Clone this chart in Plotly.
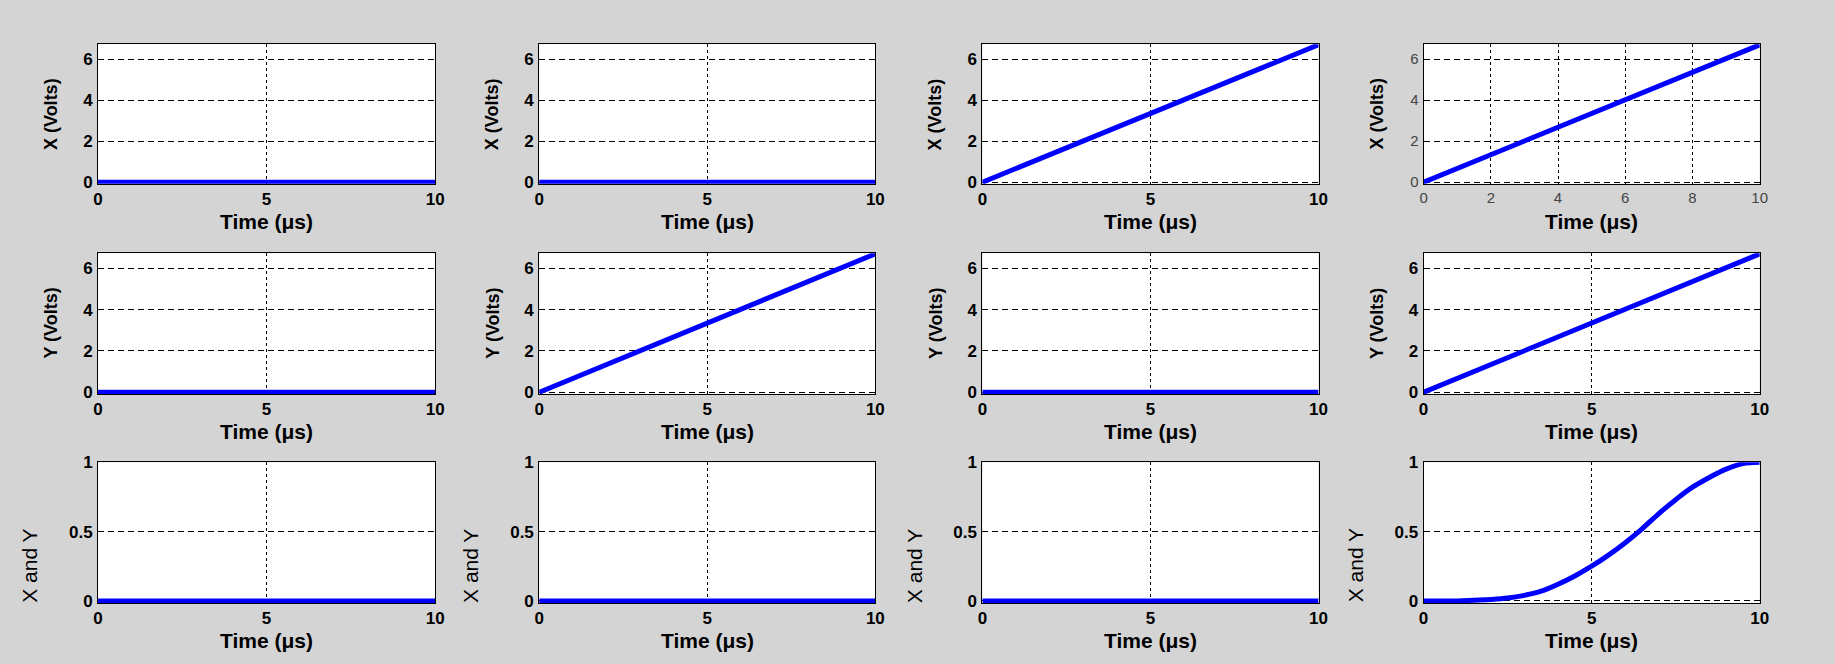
import plotly.graph_objects as go

# ---- data -------------------------------------------------------------
time_us = [0, 10]
zero_volts = [0, 0]
ramp_volts = [0, 6.7]
zero_level = [0, 0]

s_time_us = [0, 1, 1.5, 2, 2.5, 3, 3.5, 4, 4.5, 5, 5.5, 6, 6.5, 7, 7.5, 8, 8.5, 9, 9.5, 10]
s_level = [0, 0.0, 0.005, 0.01, 0.02, 0.04, 0.07, 0.12, 0.18, 0.25, 0.33, 0.42, 0.52,
           0.63, 0.73, 0.82, 0.89, 0.95, 0.99, 1.0]

row_titles = ["X (Volts)", "Y (Volts)", "X and Y"]
x_title = "Time (\u03bcs)"

volt_ticks = [0, 2, 4, 6]
level_ticks = [0, 0.5, 1]
level_tick_text = ["0", "0.5", "1"]
coarse_time_ticks = [0, 5, 10]
fine_time_ticks = [0, 2, 4, 6, 8, 10]

# panels[row][col] -> (time, values)
panels = [
    [(time_us, zero_volts), (time_us, zero_volts), (time_us, ramp_volts), (time_us, ramp_volts)],
    [(time_us, zero_volts), (time_us, ramp_volts), (time_us, zero_volts), (time_us, ramp_volts)],
    [(time_us, zero_level), (time_us, zero_level), (time_us, zero_level), (s_time_us, s_level)],
]

# ---- layout geometry --------------------------------------------------
# target screen positions (px) of each panel, converted to figure pixels
OX, OY = 6.0, 8.0        # screen offset of the figure
SX, SY = 0.992, 0.970    # screen px per figure px
W, H = 1843, 676
col_px = [(99, 436), (540, 876), (983, 1319), (1424, 1760)]
row_px = [(43, 182), (251, 391), (459, 599)]

FONT = "Liberation Sans, Arial, sans-serif"
BG = "#d4d4d4"
LINE_BLUE = "#0000ff"


def fx(px):
    return (px - OX) / SX / W


def fy(py):
    return 1 - (py - OY) / SY / H


fig = go.Figure()
annotations = []
layout_axes = {}

for r in range(3):
    for c in range(4):
        idx = r * 4 + c + 1
        sfx = "" if idx == 1 else str(idx)
        t, v = panels[r][c]
        fig.add_trace(go.Scatter(
            x=t, y=v, mode="lines",
            line=dict(color=LINE_BLUE, width=5, shape="spline" if len(t) > 2 else "linear"),
            xaxis="x" + sfx, yaxis="y" + sfx, showlegend=False, hoverinfo="skip",
        ))

        left, right = col_px[c]
        top, bottom = row_px[r]

        fine = (r == 0 and c == 3)
        tick_font = dict(family=FONT, size=17, color="black", weight="bold")
        if fine:
            tick_font = dict(family=FONT, size=15, color="#444444", weight="normal")

        if r < 2:
            yrange = [-0.08, 6.73]
            yticks, ytext = volt_ticks, [str(v_) for v_ in volt_ticks]
        else:
            yrange = [-0.015, 1.0]
            yticks, ytext = level_ticks, level_tick_text

        xticks = fine_time_ticks if fine else coarse_time_ticks

        common = dict(
            showline=True, linecolor="black", linewidth=1, mirror=True,
            ticks="", showgrid=True, gridcolor="black", gridwidth=1,
            zeroline=False, tickfont=tick_font, fixedrange=True,
        )
        layout_axes["xaxis" + sfx] = dict(
            common, domain=[fx(left), fx(right)], range=[0, 10], anchor="y" + sfx,
            tickvals=xticks, ticktext=[str(x_) for x_ in xticks],
            griddash="3px,3px", ticklabelstandoff=0,
        )
        layout_axes["yaxis" + sfx] = dict(
            common, domain=[fy(bottom), fy(top)], range=yrange, anchor="x" + sfx,
            tickvals=yticks, ticktext=ytext,
            griddash="6px,4px", ticklabelstandoff=1,
        )

        # axis titles
        annotations.append(dict(
            text=x_title, xref="paper", yref="paper",
            x=fx((left + right) / 2), y=fy(bottom + 37),
            xanchor="center", yanchor="middle", showarrow=False,
            font=dict(family=FONT, size=21, color="black", weight="bold"),
        ))
        if r < 2:
            annotations.append(dict(
                text=row_titles[r], xref="paper", yref="paper",
                x=fx(left - 47), y=fy((top + bottom) / 2),
                xanchor="center", yanchor="middle", textangle=-90, showarrow=False,
                font=dict(family=FONT, size=18, color="black", weight="bold"),
            ))
        else:
            annotations.append(dict(
                text=row_titles[r], xref="paper", yref="paper",
                x=fx(left - 68), y=fy(562),
                xanchor="center", yanchor="middle", textangle=-90, showarrow=False,
                font=dict(family=FONT, size=21, color="black"),
            ))

fig.update_layout(
    width=W, height=H,
    margin=dict(l=0, r=0, t=0, b=0),
    paper_bgcolor=BG, plot_bgcolor="white",
    annotations=annotations,
    **layout_axes,
)

fig.write_html("out.html", config={"displayModeBar": False})
